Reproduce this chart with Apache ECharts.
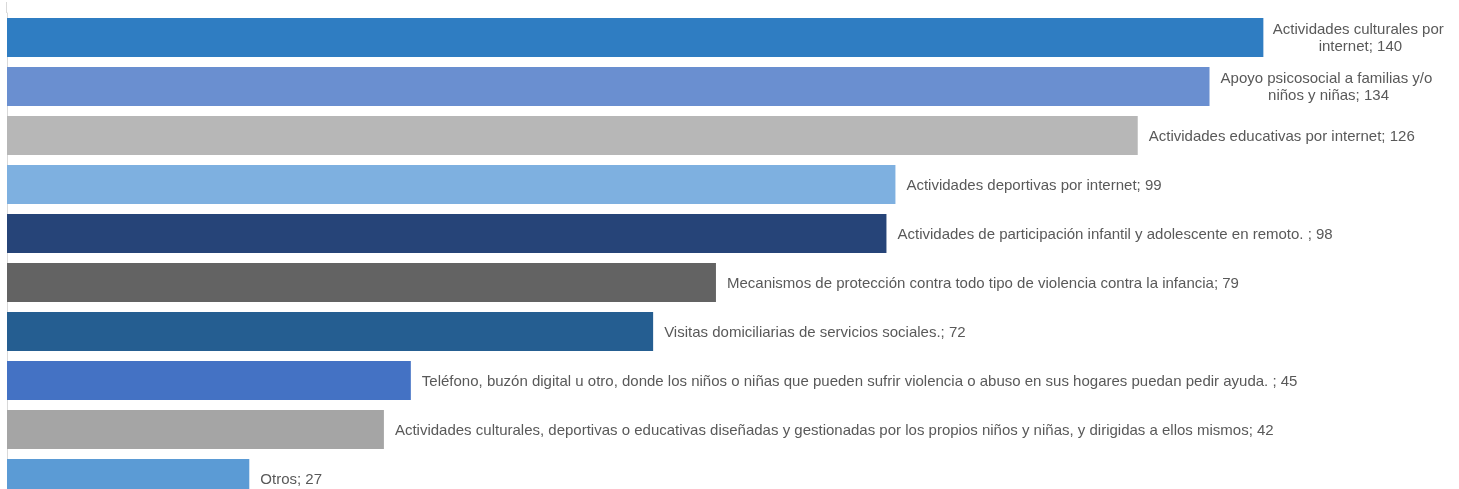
<!DOCTYPE html>
<html>
<head>
<meta charset="utf-8">
<script src="https://cdn.jsdelivr.net/npm/echarts@6/dist/echarts.min.js"></script>
<style>
html,body{margin:0;padding:0;background:#fff;}
#c{width:1459px;height:489px;}
</style>
</head>
<body>
<div id="c"></div>
<script>
var categories = [
  "Actividades culturales por internet",
  "Apoyo psicosocial a familias y/o niños y niñas",
  "Actividades educativas por internet",
  "Actividades deportivas por internet",
  "Actividades de participación infantil y adolescente en remoto. ",
  "Mecanismos de protección contra todo tipo de violencia contra la infancia",
  "Visitas domiciliarias de servicios sociales.",
  "Teléfono, buzón digital u otro, donde los niños o niñas que pueden sufrir violencia o abuso en sus hogares puedan pedir ayuda. ",
  "Actividades culturales, deportivas o educativas diseñadas y gestionadas por los propios niños y niñas, y dirigidas a ellos mismos",
  "Otros"
];
var values = [140, 134, 126, 99, 98, 79, 72, 45, 42, 27];
var colors = ["#2F7DC2", "#6A8FD0", "#B7B7B7", "#7EB0E0", "#264478", "#636363", "#255E91", "#4472C4", "#A5A5A5", "#5B9BD5"];

var chart = echarts.init(document.getElementById('c'), null, {renderer: 'canvas'});
var wrapLabels = {
  0: {width: 185, offset: [86, 1]},
  1: {width: 225, offset: [108, 1]}
};
var data = values.map(function (v, i) {
  var item = {value: v, itemStyle: {color: colors[i]}};
  if (wrapLabels[i]) {
    item.label = {width: wrapLabels[i].width, overflow: 'break', align: 'center', offset: wrapLabels[i].offset};
  }
  return item;
});
chart.setOption({
  animation: false,
  grid: {left: 7, right: 0, top: 13, height: 490, containLabel: false, outerBoundsMode: 'none'},
  xAxis: {type: 'value', min: 0, max: 161.8, show: false},
  yAxis: {
    type: 'category', data: categories, inverse: true,
    axisLine: {show: true, lineStyle: {color: '#D9D9D9', width: 1}},
    axisTick: {show: false}, axisLabel: {show: false}
  },
  graphic: [{type: 'line', shape: {x1: 6.5, y1: 2, x2: 6.5, y2: 13}, style: {stroke: '#D9D9D9', lineWidth: 1}}],
  series: [{
    type: 'bar', data: data, barCategoryGap: '20%',
    label: {
      show: true, position: 'right', distance: 11, offset: [0, 1],
      color: '#595959', fontSize: 15, fontFamily: 'Liberation Sans', lineHeight: 17,
      formatter: function (p) { return categories[p.dataIndex] + '; ' + p.value; }
    }
  }]
});
</script>
</body>
</html>
